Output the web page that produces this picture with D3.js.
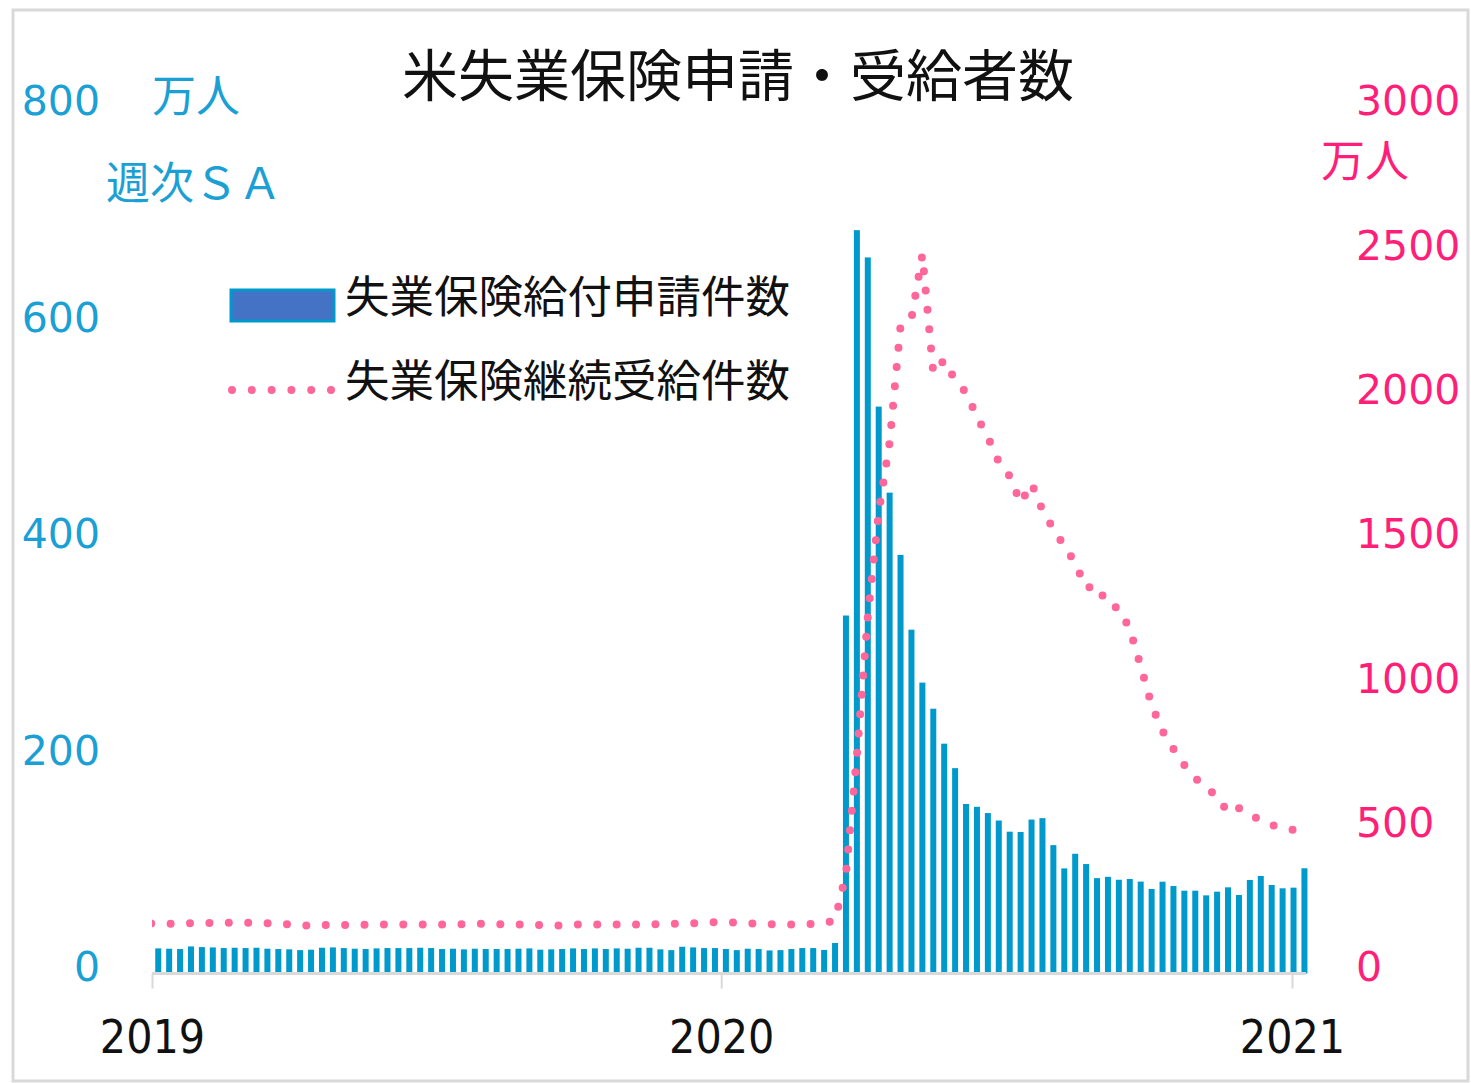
<!DOCTYPE html>
<html><head><meta charset="utf-8">
<script src="https://cdn.jsdelivr.net/npm/d3@7"></script>
<style>html,body{margin:0;padding:0;background:#fff;}</style>
</head><body>
<svg id="chart" width="1471" height="1083"></svg>
<script>
// ---- data (万人) ----
const titleText = "米失業保険申請・受給者数";
const legendLabels = ["失業保険給付申請件数", "失業保険継続受給件数"];
const yearTicks = ["2019-01-01", "2020-01-01", "2021-01-01"];
const yearLabels = ["2019", "2020", "2021"];
const leftTicks = [0, 200, 400, 600, 800];
const rightTicks = [0, 500, 1000, 1500, 2000, 2500, 3000];

// weekly initial claims, week ending Saturdays from 2019-01-05
const claimsStart = "2019-01-05";
const initialClaims = [
  23.2, 22.9, 22.6, 25.0, 24.4, 24.1, 23.5, 23.8, 23.5, 23.8,
  22.9, 22.6, 22.3, 21.6, 22.0, 23.8, 24.1, 23.5, 22.9, 22.6,
  23.2, 23.5, 23.5, 23.5, 23.8, 23.5, 22.6, 22.9, 22.3, 22.9,
  22.6, 22.6, 22.6, 22.9, 23.2, 22.0, 22.3, 22.6, 23.2, 22.6,
  23.2, 22.6, 23.2, 22.9, 23.8, 23.8, 22.3, 21.6, 24.7, 24.1,
  23.5, 23.5, 22.6, 21.6, 22.9, 22.6, 21.3, 21.6, 22.6, 23.5,
  23.5, 21.8, 28.2, 330.7, 686.7, 661.5, 523.7, 444.2, 386.7, 317.6,
  268.7, 244.6, 212.3, 189.7, 156.6, 154.0, 148.2, 141.3, 131.0, 130.7,
  142.2, 143.5, 118.6, 97.1, 110.6, 101.1, 88.1, 89.3, 86.6, 87.3,
  84.9, 78.1, 84.8, 80.8, 76.5, 76.5, 72.2, 75.6, 79.6, 72.5,
  86.4, 90.1, 81.8, 78.7, 79.3, 97.2
];

// weekly continuing claims, week ending Saturdays from 2018-12-29
const continuingStart = "2018-12-29";
const continuingClaims = [
  174, 173, 172, 173, 174, 174, 175, 176, 176, 176,
  175, 174, 172, 170, 167, 166, 168, 168, 168, 169,
  169, 170, 170, 170, 170, 170, 170, 170, 170, 171,
  172, 172, 171, 170, 170, 169, 168, 166, 167, 169,
  170, 170, 170, 170, 170, 170, 170, 171, 172, 173,
  174, 176, 178, 177, 176, 174, 173, 171, 170, 170,
  171, 172, 174, 185, 345, 755, 1235, 1598, 1840, 2245,
  2270, 2490, 2080, 2125, 2055, 2013, 1928, 1858, 1772, 1723,
  1630, 1698, 1605, 1540, 1481, 1422, 1335, 1345, 1275, 1266,
  1193, 1065, 930, 840, 778, 722, 677, 643, 615, 556,
  573, 549, 532, 514, 505, 497
];

// ---- build ----
const parse = d3.utcParse("%Y-%m-%d");
const barData = initialClaims.map((v, i) => ({date: d3.utcDay.offset(parse(claimsStart), 7 * i), v}));
const lineData = continuingClaims.map((v, i) => ({date: d3.utcDay.offset(parse(continuingStart), 7 * i), v}));

const svg = d3.select("#chart");
const BLUE = "#0099CC", BLUE_TXT = "#1AA0D4", PINK_TXT = "#FF1F78", PINK_DOT = "#FF6699";
const cjk = "'Noto Sans CJK JP', 'Noto Sans', sans-serif";
const num = "'DejaVu Sans', Verdana, sans-serif";
const numCond = "'DejaVu Sans Condensed', 'Liberation Sans Narrow', 'DejaVu Sans', sans-serif";

const x0 = 152, x1 = 1306, yBase = 973.5, yTop = 107.5;
const x = d3.scaleUtc().domain([parse("2019-01-01"), parse("2021-01-10")]).range([x0, x1]);
const yL = d3.scaleLinear().domain([0, 800]).range([yBase, yTop]);
const yR = d3.scaleLinear().domain([0, 3000]).range([yBase, yTop]);

// outer border
svg.append("rect").attr("x", 13).attr("y", 10).attr("width", 1455).attr("height", 1071)
  .attr("fill", "#fff").attr("stroke", "#D9D9D9").attr("stroke-width", 3);

// title
svg.append("text").attr("x", 738).attr("y", 96).attr("text-anchor", "middle")
  .attr("font-family", cjk).attr("font-size", 56).attr("fill", "#111").text(titleText);

// clip
svg.append("clipPath").attr("id", "plotclip").append("rect")
  .attr("x", x0).attr("y", 0).attr("width", x1 - x0).attr("height", 1083);

// bars
const bw = 6;
svg.append("g").selectAll("rect").data(barData).join("rect")
  .attr("x", d => x(d.date) - bw / 2)
  .attr("y", d => yL(d.v))
  .attr("width", bw)
  .attr("height", d => yBase - yL(d.v))
  .attr("fill", BLUE);

// x axis
const xAxis = d3.axisBottom(x).tickValues(yearTicks.map(parse)).tickSize(15).tickFormat((d, i) => yearLabels[i]);
const gx = svg.append("g").attr("transform", `translate(0,${yBase})`).call(xAxis);
gx.select(".domain").attr("stroke", "#D9D9D9").attr("stroke-width", 3).attr("d", `M${x0},0H${x1}`);
gx.selectAll(".tick line").attr("stroke", "#D9D9D9").attr("stroke-width", 2);
gx.selectAll(".tick text").attr("font-family", numCond).attr("font-size", 46)
  .attr("fill", "#111").attr("dy", null).attr("y", 79);

// continuing claims dotted line
const line = d3.line().x(d => x(d.date)).y(d => yR(d.v));
svg.append("path").datum(lineData).attr("clip-path", "url(#plotclip)")
  .attr("d", line).attr("fill", "none").attr("stroke", PINK_DOT)
  .attr("stroke-width", 8).attr("stroke-linecap", "round")
  .attr("stroke-dasharray", "0 19.4").attr("stroke-dashoffset", 15.5);

// left axis
const gl = svg.append("g").attr("transform", "translate(100,0)")
  .call(d3.axisLeft(yL).tickValues(leftTicks).tickSize(0).tickPadding(0).tickFormat(d3.format("d")));
gl.select(".domain").remove();
gl.selectAll(".tick text").attr("font-family", num).attr("font-size", 41)
  .attr("fill", BLUE_TXT).attr("dy", "0.18em");

// right axis
const gr = svg.append("g").attr("transform", "translate(1356,0)")
  .call(d3.axisRight(yR).tickValues(rightTicks).tickSize(0).tickPadding(0).tickFormat(d3.format("d")));
gr.select(".domain").remove();
gr.selectAll(".tick text").attr("font-family", num).attr("font-size", 41)
  .attr("fill", PINK_TXT).attr("dy", "0.18em");

// unit labels
svg.append("text").attr("x", 152).attr("y", 112).attr("font-family", cjk).attr("font-size", 44)
  .attr("fill", BLUE_TXT).text("万人");
svg.append("text").attr("x", 106).attr("y", 199).attr("font-family", cjk).attr("font-size", 44)
  .attr("fill", BLUE_TXT).text("週次ＳＡ");
svg.append("text").attr("x", 1321).attr("y", 177).attr("font-family", cjk).attr("font-size", 44)
  .attr("fill", PINK_TXT).text("万人");

// legend
svg.append("rect").attr("x", 231).attr("y", 290).attr("width", 103).attr("height", 31)
  .attr("fill", "#4472C4").attr("stroke", BLUE).attr("stroke-width", 3);
svg.append("text").attr("x", 345).attr("y", 313).attr("font-family", cjk).attr("font-size", 44.5)
  .attr("fill", "#111").text(legendLabels[0]);
svg.append("path").attr("d", "M232,390H331").attr("stroke", PINK_DOT).attr("stroke-width", 8)
  .attr("stroke-linecap", "round").attr("stroke-dasharray", "0 19.8");
svg.append("text").attr("x", 345).attr("y", 397).attr("font-family", cjk).attr("font-size", 44.5)
  .attr("fill", "#111").text(legendLabels[1]);
</script>
</body></html>
